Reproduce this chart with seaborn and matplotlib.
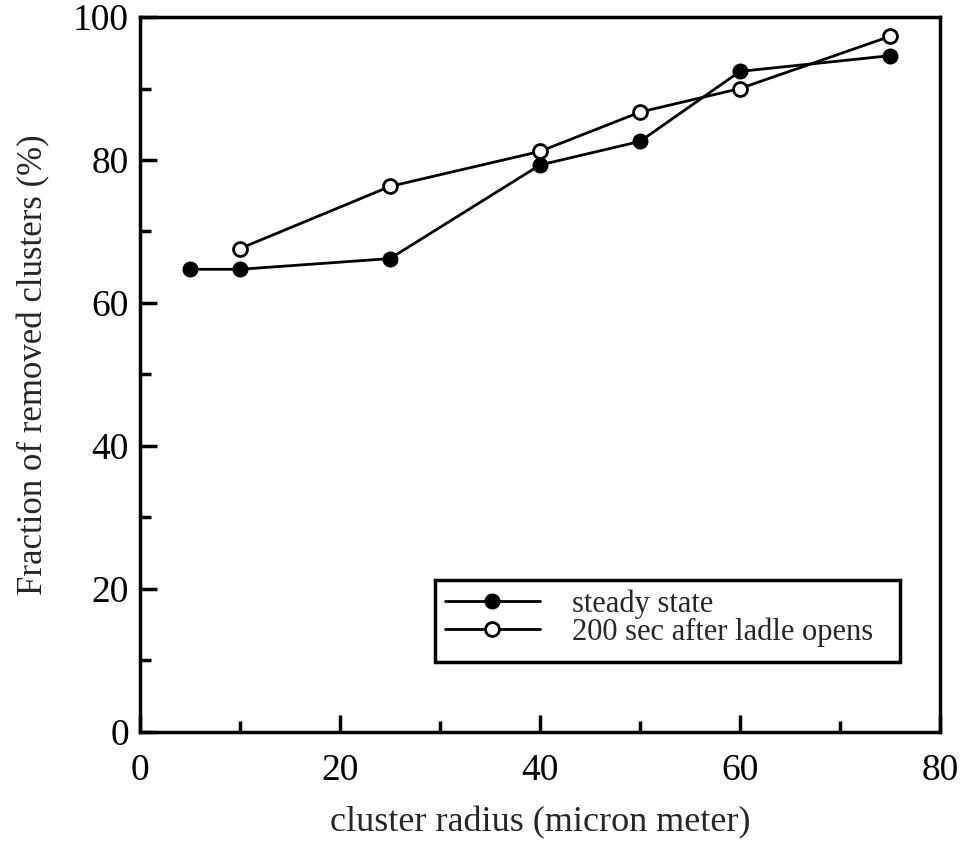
import matplotlib
matplotlib.use("Agg")
import matplotlib.pyplot as plt
import seaborn as sns
import pandas as pd
from matplotlib.ticker import MultipleLocator
from matplotlib.patches import Rectangle

radius_steady = [5, 10, 25, 40, 50, 60, 75]
frac_steady = [64.7, 64.7, 66.2, 79.3, 82.6, 92.4, 94.6]
radius_open = [10, 25, 40, 50, 60, 75]
frac_open = [67.6, 76.3, 81.2, 86.7, 90.0, 97.3]
labels = ["steady state", "200 sec after ladle opens"]

sns.set_style("white")
plt.rcParams['font.family'] = ['Liberation Serif', 'DejaVu Serif']

df_s = pd.DataFrame({"x": radius_steady, "y": frac_steady})
df_o = pd.DataFrame({"x": radius_open, "y": frac_open})

fig = plt.figure(figsize=(9.64, 8.55), dpi=100)
ax = fig.add_axes([0.1452, 0.1444, 0.8299, 0.8356])

sns.lineplot(data=df_s, x="x", y="y", ax=ax, color="black", lw=2,
             marker="o", markersize=10, markerfacecolor="black",
             markeredgecolor="black", markeredgewidth=1.5, label=labels[0])
sns.lineplot(data=df_o, x="x", y="y", ax=ax, color="black", lw=2,
             marker="o", markersize=10, markerfacecolor="white",
             markeredgecolor="black", markeredgewidth=2, label=labels[1])

ax.set_xlim(0, 80)
ax.set_ylim(0, 100)
ax.xaxis.set_major_locator(MultipleLocator(20))
ax.xaxis.set_minor_locator(MultipleLocator(10))
ax.yaxis.set_major_locator(MultipleLocator(20))
ax.yaxis.set_minor_locator(MultipleLocator(10))
ax.tick_params(which="both", direction="in", top=False, right=False,
               left=True, bottom=True, width=2.5, colors="black")
ax.tick_params(which="major", length=12, labelsize=27)
ax.tick_params(axis="x", which="major", pad=16)
ax.tick_params(axis="y", which="major", pad=8)
ax.tick_params(which="minor", length=8)
for s in ax.spines.values():
    s.set_linewidth(2.5)
    s.set_color("black")

ax.set_xlabel("cluster radius (micron meter)", fontsize=26, labelpad=13)
ax.set_ylabel("Fraction of removed clusters (%)", fontsize=25)
ax.yaxis.set_label_coords(-0.112, 0.513)

# legend box
ax.add_patch(Rectangle((0.369, 0.0973), 0.581, 0.115, transform=ax.transAxes,
                       fill=False, edgecolor="black", lw=2.5, zorder=5))
leg = ax.legend(loc="upper left", bbox_to_anchor=(0.381, 0.1994),
                fontsize=22, frameon=False, handlelength=3.1, handletextpad=1.05,
                borderpad=0, labelspacing=-0.05, borderaxespad=0)

fig.savefig("out.png", dpi=100)
